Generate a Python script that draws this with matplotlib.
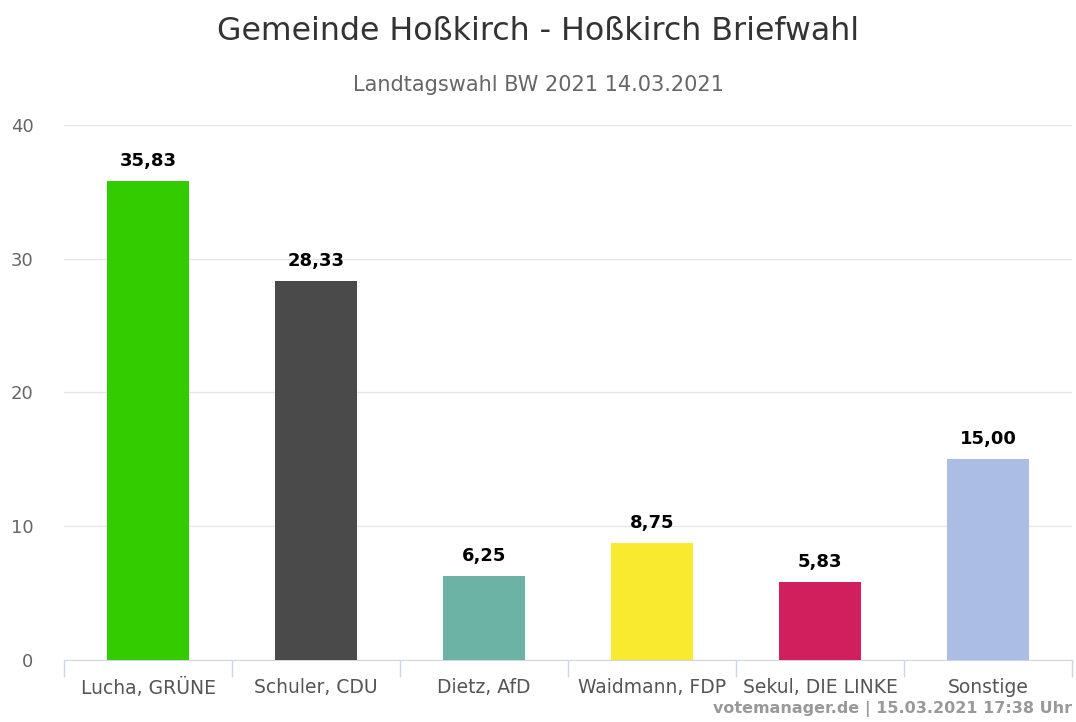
import matplotlib.pyplot as plt
import numpy as np

plt.rcParams['font.family'] = ['DejaVu Sans']

candidates = ['Lucha, GRÜNE', 'Schuler, CDU', 'Dietz, AfD', 'Waidmann, FDP',
              'Sekul, DIE LINKE', 'Sonstige']
shares = [35.83, 28.33, 6.25, 8.75, 5.83, 15.00]
colors = ['#33cc00', '#4a4a4a', '#6db3a5', '#f9e92f', '#d01f5c', '#abbde3']
yticks = [0, 10, 20, 30, 40]

fig = plt.figure(figsize=(10.76, 7.22), dpi=100)
ax = fig.add_axes([0.0595, 0.0859, 0.9368, 0.741])

x = np.arange(len(candidates))
ax.bar(x, shares, width=0.49, color=colors, zorder=3)
for xi, v in zip(x, shares):
    ax.annotate(f'{v:.2f}'.replace('.', ','), (xi, v), xytext=(0, 8),
                textcoords='offset points', ha='center', va='bottom',
                fontsize=13, fontweight='bold', color='black')

ax.set_xlim(-0.5, len(candidates) - 0.5)
ax.set_ylim(0, 40)
ax.set_yticks(yticks)
ax.yaxis.grid(True, color='#e6e6e6', linewidth=1, zorder=0)
ax.tick_params(axis='y', length=0, labelsize=13, labelcolor='#666666', pad=22)

ax.set_xticks(x)
ax.set_xticklabels(candidates)
ax.set_xticks(np.arange(len(candidates) + 1) - 0.5, minor=True)
ax.tick_params(axis='x', which='major', length=0, labelsize=13.5,
               labelcolor='#555555', pad=13)
ax.tick_params(axis='x', which='minor', length=12, color='#ccd6eb', width=1)

for s in ['top', 'right', 'left']:
    ax.spines[s].set_visible(False)
ax.spines['bottom'].set_color('#ccd6eb')

fig.text(0.5, 0.956, 'Gemeinde Hoßkirch - Hoßkirch Briefwahl', ha='center',
         va='center', fontsize=22.8, color='#333333')
fig.text(0.5, 0.882, 'Landtagswahl BW 2021 14.03.2021', ha='center',
         va='center', fontsize=15, color='#666666')
fig.text(0.996, 0.018, 'votemanager.de | 15.03.2021 17:38 Uhr', ha='right',
         va='center', fontsize=11.5, fontweight='bold', color='#999999')

fig.savefig('out.png', dpi=100)
